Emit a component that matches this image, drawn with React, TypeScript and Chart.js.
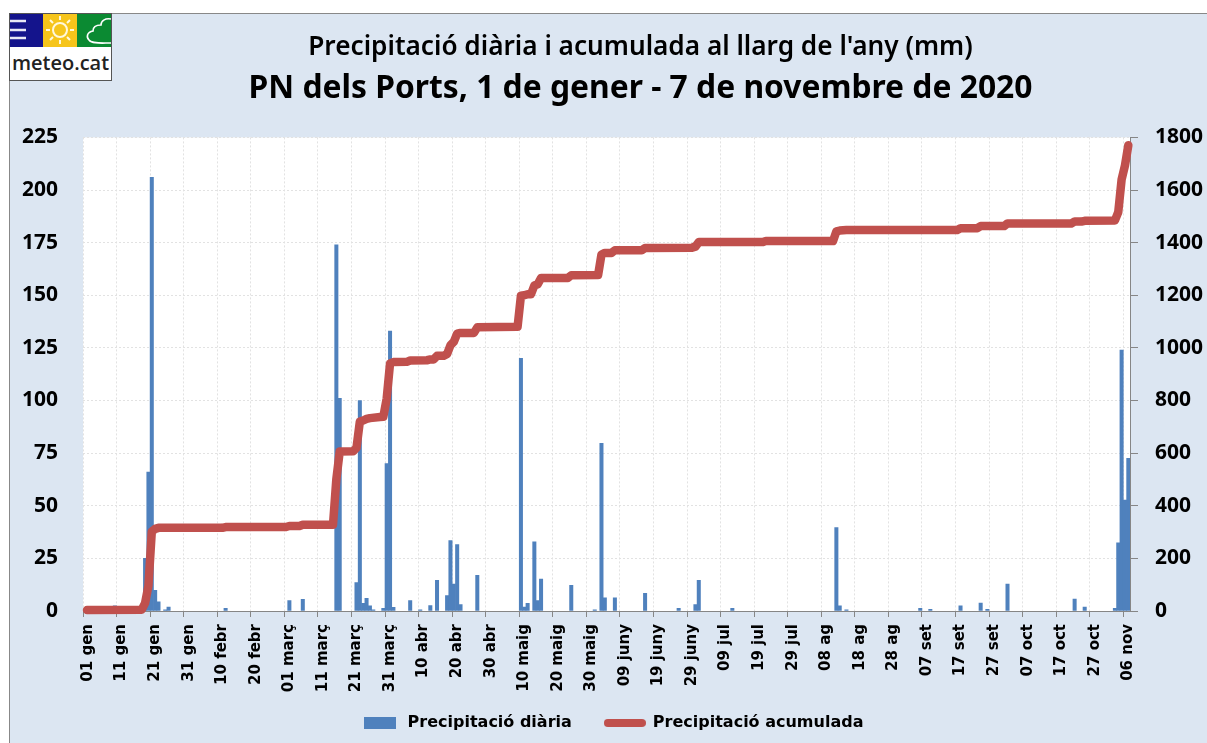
import React, { useEffect, useRef } from "react";
import { Chart, registerables } from "chart.js";

Chart.register(...registerables);

const titleText = "Precipitació diària i acumulada al llarg de l'any (mm)";
const subtitleText = "PN dels Ports, 1 de gener - 7 de novembre de 2020";
const dailyName = "Precipitació diària";
const accumName = "Precipitació acumulada";

const tickLabels = [
  "01 gen", "11 gen", "21 gen", "31 gen", "10 febr", "20 febr", "01 març", "11 març",
  "21 març", "31 març", "10 abr", "20 abr", "30 abr", "10 maig", "20 maig", "30 maig",
  "09 juny", "19 juny", "29 juny", "09 jul", "19 jul", "29 jul", "08 ag", "18 ag",
  "28 ag", "07 set", "17 set", "27 set", "07 oct", "17 oct", "27 oct", "06 nov",
];

// Day of the year (0 = 1 Jan) for the days with rain, and the mm that fell.
const wetDays = [
  9, 18, 19, 20, 21, 22, 24, 25, 42, 61, 65, 75, 76, 81, 82, 83, 84, 85, 86, 89, 90, 91, 92,
  97, 100, 103, 105, 108, 109, 110, 111, 112, 117, 130, 131, 132, 134, 135, 136, 145, 152,
  154, 155, 158, 167, 177, 182, 183, 193, 224, 225, 227, 249, 252, 261, 267, 269, 275, 295,
  298, 307, 308, 309, 310, 311,
];
const wetMm = [
  2.4, 25, 66, 206, 9.8, 4.3, 0.5, 1.9, 1.3, 4.9, 5.5, 174, 101, 13.5, 100, 3.6, 6, 2.4, 0.5,
  1.3, 70, 133, 1.7, 4.9, 0.5, 2.6, 14.6, 7.3, 33.4, 12.8, 31.6, 3, 17, 120, 1.9, 3.6, 32.9,
  4.9, 15.2, 12.2, 0.6, 79.6, 6.2, 6.2, 8.4, 1.3, 3, 14.6, 1.3, 39.6, 2.4, 0.6, 1.3, 0.8, 2.5,
  3.8, 0.8, 12.8, 5.7, 1.9, 1.3, 32.4, 124, 52.7, 72.5,
];

// Bends of the red accumulated line.
const accumDays = [
  1.2, 17.5, 18.5, 19.5, 20.5, 21.5, 22.5, 41.5, 42.5, 60.5, 61.5, 64.5, 65.5, 74.5, 75.5, 76.5,
  80.5, 81.5, 82.5, 83.5, 84.5, 85.5, 88.5, 89.5, 90.5, 91.5, 92.5, 96.5, 97.5, 102.5, 103.5,
  104.5, 105.5, 107.5, 108.5, 109.5, 110.5, 111.5, 112.5, 116.5, 117.5, 129.5, 130.5, 131.5,
  132.5, 133.5, 134.5, 135.5, 136.5, 144.5, 145.5, 153.5, 154.5, 155.5, 157.5, 158.5, 166.5,
  167.5, 181.5, 182.5, 183.5, 202.5, 203.5, 223.5, 224.5, 225.5, 227.5, 260.5, 261.5, 266.5,
  267.5, 274.5, 275.5, 294.5, 295.5, 297.5, 298.5, 307.5, 308.5, 309.5, 310.5, 311.5,
];
const accumMm = [
  4, 5, 30, 96, 302, 312, 316, 316, 319, 319, 323, 323, 328, 328, 502, 606, 607, 620, 720, 724,
  730, 733, 737, 738, 808, 941, 946, 947, 952, 953, 956, 956, 970, 970, 977, 1010, 1023, 1054,
  1057, 1057, 1078, 1080, 1198, 1200, 1204, 1204, 1237, 1242, 1266, 1266, 1276, 1277, 1355, 1361,
  1361, 1371, 1371, 1380, 1381, 1385, 1402, 1402, 1406, 1406, 1443, 1446, 1448, 1448, 1455, 1455,
  1463, 1463, 1473, 1473, 1480, 1480, 1483, 1484, 1516, 1640, 1693, 1770,
];

const BLUE = "#4F81BD";
const RED = "#C0504D";
const PANEL = "#DCE6F2";
const GRID = "#E2E2E2";
const AXIS = "#868686";

function swatch(w: number, h: number, color: string, round: boolean) {
  const c = document.createElement("canvas");
  c.width = w;
  c.height = h;
  const g = c.getContext("2d")!;
  g.fillStyle = color;
  g.beginPath();
  g.roundRect(0, 0, w, h, round ? h / 2 : 0);
  g.fill();
  return c;
}

function Logo() {
  return (
    <svg width="103" height="68" style={{ position: "absolute", left: 0, top: 0 }}>
      <rect x="0.5" y="0.5" width="102" height="67" fill="#fff" stroke="#555" />
      <rect x="1" y="1" width="33" height="33" fill="#14148C" />
      <rect x="34" y="1" width="34" height="33" fill="#F6C51B" />
      <rect x="68" y="1" width="34" height="33" fill="#0B8A32" />
      <path d="M1 8H17M1 17H17M1 25H17" stroke="#E8E8F5" strokeWidth="2.5" />
      <circle cx="51" cy="17" r="7" fill="none" stroke="#FFF8DC" strokeWidth="2" />
      <path
        d="M51 3V7M51 27V31M37 17H41M61 17H65M41 7L44 10M61 7L58 10M41 27L44 24M61 27L58 24"
        stroke="#FFF8DC"
        strokeWidth="2"
      />
      <path
        d="M102 6C96 5 92 8 92 12C86 12 84 15 84 18C78 19 77 24 80 27C83 31 92 30 102 30"
        fill="none"
        stroke="#fff"
        strokeWidth="1.6"
      />
      <text x="51.5" y="57" textAnchor="middle" fontFamily="'Open Sans'" fontWeight="600" fontSize="20" fill="#222">
        meteo.cat
      </text>
    </svg>
  );
}

export default function App() {
  const ref = useRef<HTMLCanvasElement>(null);

  useEffect(() => {
    const blueSwatch = swatch(32, 12, BLUE, false);
    const redSwatch = swatch(42, 8, RED, true);

    const chart = new Chart(ref.current!, {
      data: {
        datasets: [
          {
            type: "bar",
            label: dailyName,
            data: wetDays.map((d, i) => ({ x: d + 0.5, y: wetMm[i] })),
            backgroundColor: BLUE,
            categoryPercentage: 1,
            barPercentage: 1,
            yAxisID: "y",
            order: 2,
          },
          {
            type: "line",
            label: accumName,
            data: accumDays.map((d, i) => ({ x: d, y: accumMm[i] })),
            borderColor: RED,
            backgroundColor: RED,
            borderWidth: 8.5,
            borderJoinStyle: "round",
            borderCapStyle: "round",
            pointRadius: 0,
            tension: 0,
            clip: false,
            yAxisID: "y1",
            order: 1,
          },
        ],
      } as any,
      options: {
        animation: false,
        responsive: false,
        layout: { padding: { top: 32, bottom: 2, left: 0, right: 0 } },
        scales: {
          x: {
            type: "linear",
            min: 0,
            max: 312,
            offset: false,
            afterBuildTicks: (s: any) => {
              s.ticks = tickLabels.map((_, i) => ({ value: i * 10 }));
            },
            afterFit: (s: any) => {
              s.height = 71;
            },
            ticks: {
              stepSize: 10,
              autoSkip: false,
              minRotation: 90,
              maxRotation: 90,
              padding: 7,
              labelOffset: 5,
              color: "#000",
              font: { family: "'DejaVu Sans'", size: 15, weight: "bold" },
              callback: (v: any) => tickLabels[v / 10] ?? "",
            },
            grid: {
              offset: false,
              color: GRID,
              tickColor: AXIS,
              tickLength: 6,
              tickBorderDash: [],
            },
            border: { color: AXIS, width: 1, dash: [2, 2] },
          },
          y: {
            position: "left",
            min: 0,
            max: 225,
            afterFit: (s: any) => {
              s.width = 83;
            },
            ticks: {
              stepSize: 25,
              padding: 25,
              color: "#000",
              font: { family: "'Noto Sans'", size: 21, weight: "bold" },
            },
            grid: { color: GRID, drawTicks: false, tickLength: 0 },
            border: { display: false, dash: [2, 2] },
          },
          y1: {
            position: "right",
            min: 0,
            max: 1800,
            afterFit: (s: any) => {
              s.width = 77;
            },
            ticks: {
              stepSize: 200,
              padding: 17,
              color: "#000",
              font: { family: "'Noto Sans'", size: 21, weight: "bold" },
              callback: (v: any) => String(v),
            },
            grid: { drawOnChartArea: false, tickColor: AXIS, tickLength: 8 },
            border: { color: AXIS, width: 1 },
          },
        },
        plugins: {
          tooltip: { enabled: false },
          title: {
            display: true,
            text: titleText,
            color: "#000",
            font: { family: "'Noto Sans'", size: 26.2, weight: "600", lineHeight: 1.2 },
            padding: { top: 0, bottom: 6.8 },
          },
          subtitle: {
            display: true,
            text: subtitleText,
            color: "#000",
            font: { family: "'Noto Sans'", size: 31.8, weight: "bold", lineHeight: 1.2 },
            padding: { top: 0, bottom: 29 },
          },
          legend: {
            position: "bottom",
            labels: {
              usePointStyle: true,
              pointStyleWidth: 40,
              padding: 33,
              color: "#000",
              font: { family: "'DejaVu Sans'", size: 16, weight: "bold" },
              generateLabels: (c: any) =>
                c.data.datasets.map((d: any, i: number) => ({
                  text: d.label,
                  datasetIndex: i,
                  pointStyle: i === 0 ? blueSwatch : redSwatch,
                  fontColor: "#000",
                  lineWidth: 0,
                })),
            },
          },
        },
      } as any,
      plugins: [
        {
          id: "plotBackground",
          beforeDraw(c: any) {
            const a = c.chartArea;
            c.ctx.save();
            c.ctx.fillStyle = "#fff";
            c.ctx.fillRect(a.left, a.top, a.right - a.left, a.bottom - a.top);
            c.ctx.restore();
          },
        },
        {
          id: "shiftHeadings",
          afterLayout(c: any) {
            c.boxes
              .filter((b: any) => b.position === "top")
              .forEach((b: any) => {
                b.left += 37;
                b.right += 37;
              });
            c.legend.left += 8;
            c.legend.right += 8;
            // Let the rotated tick labels run past the axis box without being cut off.
            c.scales.x.bottom += 40;
          },
        },
      ] as any,
    });
    return () => chart.destroy();
  }, []);

  return (
    <div style={{ position: "fixed", left: 0, top: 0, width: 1207, height: 743, background: "#fff" }}>
      <div
        style={{
          position: "absolute",
          left: 9,
          top: 13,
          width: 1198,
          height: 730,
          background: PANEL,
          borderLeft: "1px solid #888",
          borderTop: "1px solid #888",
          boxSizing: "border-box",
        }}
      />
      <canvas ref={ref} width={1207} height={743} style={{ position: "absolute", left: 0, top: 0 }} />
      <div style={{ position: "absolute", left: 9, top: 13 }}>
        <Logo />
      </div>
    </div>
  );
}
